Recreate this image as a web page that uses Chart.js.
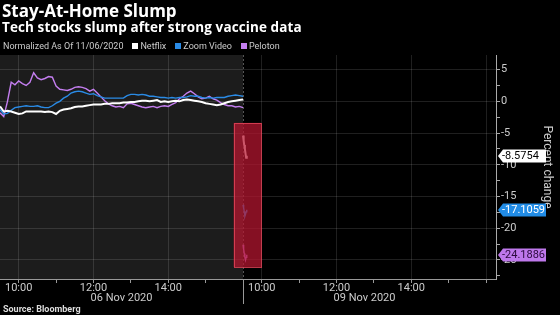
<!DOCTYPE html>
<html>
<head>
<meta charset="utf-8">
<script src="https://cdn.jsdelivr.net/npm/chart.js@4.4.0/dist/chart.umd.min.js"></script>
<style>
  html, body { margin: 0; padding: 0; background: #000; }
  #wrap { position: relative; width: 560px; height: 315px; overflow: hidden; font-family: Roboto, sans-serif; }
  #myChart { position: absolute; left: 0; top: 0; }
  .txt { position: absolute; left: 2px; white-space: nowrap; color: #fff; }
  #title { top: 2px; font: bold 17px/17px "Open Sans", sans-serif; }
  #subtitle { top: 20px; font: bold 13.5px/14px "Open Sans", sans-serif; letter-spacing: 0.1px; }
  #legend { top: 42px; left: 3px; font: 9px/9px Roboto, sans-serif; color: #ccc; }
  #legend .sw { display: inline-block; width: 6px; height: 6px; margin: 0 2px 0 9px; }
  #source { top: 305px; left: 3px; font: bold 9px/9px Roboto, sans-serif; color: #ddd; }
</style>
</head>
<body>
<div id="wrap">
  <canvas id="myChart" width="560" height="315"></canvas>
  <div class="txt" id="title">Stay-At-Home Slump</div>
  <div class="txt" id="subtitle">Tech stocks slump after strong vaccine data</div>
  <div class="txt" id="legend">Normalized As Of 11/06/2020<span class="sw" style="background:#ffffff"></span>Netflix<span class="sw" style="background:#2a8be6"></span>Zoom Video<span class="sw" style="background:#c47ef0"></span>Peloton</div>
  <div class="txt" id="source">Source: Bloomberg</div>
</div>
<script>
// minutes since the 09:30 open of 06 Nov; 09 Nov starts at minute 390
const day1Step = 6;
const dayBreak = 390;

const seriesNames = ['Netflix', 'Zoom Video', 'Peloton'];
const seriesColors = ['#ffffff', '#2a8be6', '#c47ef0'];
const tagColors = ['#ffffff', '#218ce6', '#be78eb'];
const tagTextColors = ['#000000', '#ffffff', '#2b0a3d'];

const netflixDay1 = [
  -0.8, -1.6, -1.5, -1.6, -1.8, -2.0, -1.9, -1.6, -1.6, -1.6,
  -1.6, -1.6, -1.7, -1.6, -1.7, -2.0, -1.5, -1.3, -1.2, -1.1,
  -0.9, -0.8, -0.8, -0.7, -0.6, -0.5, -0.5, -0.5, -0.4, -0.4,
  -0.3, -0.3, -0.3, -0.2, -0.2, -0.1, -0.1, 0.0, 0.1, 0.1,
  0.0, 0.1, 0.2, -0.1, 0.0, -0.1, 0.0, 0.1, 0.0, 0.2,
  0.3, 0.2, 0.1, 0.0, -0.1, -0.3, -0.4, -0.5, -0.6, -0.5,
  -0.3, -0.1, 0.0, 0.1, 0.2, 0.3
];
const zoomDay1 = [
  -1.3, -2.0, -1.9, -1.4, -1.0, -0.9, -0.8, -0.7, -0.8, -0.8,
  -0.7, -0.9, -1.0, -1.0, -0.7, -0.3, 0.0, 0.5, 0.8, 1.3,
  1.5, 1.6, 1.5, 1.3, 1.1, 1.2, 0.9, 0.7, 0.5, 0.5,
  0.5, 0.5, 0.5, 0.5, 0.9, 1.1, 1.1, 1.0, 1.1, 1.0,
  0.8, 0.8, 0.7, 0.6, 0.6, 0.5, 0.6, 0.5, 0.6, 0.6,
  0.7, 0.9, 0.8, 0.8, 0.6, 0.5, 0.6, 0.5, 0.6, 0.6,
  0.6, 0.8, 0.9, 1.0, 0.9, 0.8
];
const pelotonDay1 = [
  -1.8, -2.4, 0.0, 3.0, 2.6, 3.2, 2.8, 2.5, 3.0, 4.5,
  3.7, 3.4, 3.6, 3.9, 3.8, 2.4, 1.9, 1.8, 1.7, 1.9,
  2.2, 2.3, 2.2, 2.0, 1.6, 1.9, 1.3, 0.7, 0.1, -0.4,
  -0.7, -0.9, -0.8, -1.0, -0.4, -0.3, -0.5, -0.7, -0.9, -1.0,
  -0.9, -0.8, -1.0, -0.8, -0.7, -0.8, -0.5, -0.2, 0.4, 0.8,
  1.3, 1.6, 1.2, 0.7, 0.4, 0.5, 0.8, 0.4, 0.2, -0.2,
  -0.5, -0.7, -0.7, -0.9, -0.8, -1.0
];
// first minutes of 09 Nov, one per minute
const netflixDay2 = [-5.4, -6.2, -6.9, -7.5, -8.2, -8.9, -8.5754];
const zoomDay2 = [-16.3, -16.8, -17.4, -18.1, -17.8, -17.4, -17.1059];
const pelotonDay2 = [-22.6, -23.3, -24.0, -24.6, -25.0, -24.6, -24.1886];

const xTickMinutes = [30, 90, 150, 210, 270, 330, 420, 480, 540, 600, 660, 720, 780];
const xTickLabels = { 30: '10:00', 150: '12:00', 270: '14:00', 420: '10:00', 540: '12:00', 660: '14:00' };
const xGridMinutes = [30, 150, 270, 420, 540, 660, 780];
const dateLabels = ['06 Nov 2020', '09 Nov 2020'];
const yTickValues = [-27.5, -25, -22.5, -20, -17.5, -15, -12.5, -10, -7.5, -5, -2.5, 0, 2.5, 5];
const highlight = { xMin: 375, xMax: 419, yMin: -26.1, yMax: -3.4 };

function toPoints(d1, d2) {
  const pts = d1.map((v, i) => ({ x: i * day1Step, y: v }));
  pts.push({ x: dayBreak, y: null });
  d2.forEach((v, i) => pts.push({ x: dayBreak + i, y: v }));
  return pts;
}

const decor = {
  id: 'decor',
  beforeDraw(chart) {
    const { ctx, chartArea: a, scales: { x } } = chart;
    ctx.save();
    ctx.fillStyle = '#1c1c1c';
    const x0 = x.getPixelForValue(0), x1 = x.getPixelForValue(dayBreak);
    ctx.fillRect(x0, a.top, x1 - x0, a.bottom - a.top);
    ctx.restore();
  },
  beforeDatasetsDraw(chart) {
    const { ctx, chartArea: a, scales: { x } } = chart;
    const xb = Math.round(x.getPixelForValue(dayBreak)) + 0.5;
    ctx.save();
    ctx.strokeStyle = '#555';
    ctx.setLineDash([2, 2]);
    ctx.beginPath();
    ctx.moveTo(xb, a.top);
    ctx.lineTo(xb, a.bottom);
    ctx.stroke();
    ctx.restore();
  },
  afterDatasetsDraw(chart) {
    const { ctx, scales: { x, y } } = chart;
    const l = x.getPixelForValue(highlight.xMin), r = x.getPixelForValue(highlight.xMax);
    const t = y.getPixelForValue(highlight.yMax), b = y.getPixelForValue(highlight.yMin);
    ctx.save();
    ctx.fillStyle = 'rgba(185,22,48,0.72)';
    ctx.fillRect(l, t, r - l, b - t);
    ctx.strokeStyle = 'rgba(230,70,90,0.8)';
    ctx.lineWidth = 1;
    ctx.strokeRect(Math.round(l) + 0.5, Math.round(t) + 0.5, Math.round(r - l), Math.round(b - t));
    ctx.restore();
  },
  afterDraw(chart) {
    const { ctx, chartArea: a, scales: { x, y } } = chart;
    ctx.save();
    // day separator under the axis
    const xb = Math.round(x.getPixelForValue(dayBreak)) + 0.5;
    ctx.strokeStyle = '#999';
    ctx.beginPath();
    ctx.moveTo(xb, a.bottom);
    ctx.lineTo(xb, a.bottom + 25);
    ctx.stroke();
    // date labels
    ctx.fillStyle = '#ccc';
    ctx.font = '11px Roboto';
    ctx.textAlign = 'center';
    ctx.textBaseline = 'middle';
    ctx.fillText(dateLabels[0], x.getPixelForValue(dayBreak / 2), a.bottom + 19);
    ctx.fillText(dateLabels[1], x.getPixelForValue(dayBreak * 1.5), a.bottom + 19);
    // last value tags
    ctx.textAlign = 'left';
    chart.data.datasets.forEach((ds, i) => {
      const last = ds.data[ds.data.length - 1].y;
      const py = Math.round(y.getPixelForValue(last));
      const x0 = a.right + 2;
      ctx.fillStyle = tagColors[i];
      ctx.beginPath();
      ctx.moveTo(x0, py);
      ctx.lineTo(x0 + 5, py - 6.5);
      ctx.lineTo(x0 + 48, py - 6.5);
      ctx.lineTo(x0 + 48, py + 6.5);
      ctx.lineTo(x0 + 5, py + 6.5);
      ctx.closePath();
      ctx.fill();
      ctx.fillStyle = tagTextColors[i];
      ctx.fillText(last.toFixed(4), x0 + 4, py + 0.5);
    });
    ctx.restore();
  }
};

const ctx = document.getElementById('myChart');
const allData = [
  toPoints(netflixDay1, netflixDay2),
  toPoints(zoomDay1, zoomDay2),
  toPoints(pelotonDay1, pelotonDay2)
];

new Chart(ctx, {
  type: 'line',
  data: {
    datasets: seriesNames.map((name, i) => ({
      label: name,
      data: allData[i],
      borderColor: seriesColors[i],
      backgroundColor: seriesColors[i],
      borderWidth: i === 0 ? 2 : 1.4,
      pointRadius: 0,
      tension: 0,
      spanGaps: false,
    })),
  },
  options: {
    responsive: false,
    animation: false,
    layout: { padding: { top: 55, left: 0, right: 0, bottom: 0 } },
    plugins: { legend: { display: false }, tooltip: { enabled: false } },
    scales: {
      x: {
        type: 'linear',
        min: 0,
        max: 796,
        afterBuildTicks: (s) => { s.ticks = xTickMinutes.map((v) => ({ value: v })); },
        afterFit: (s) => { s.height = 36; },
        ticks: {
          callback: (v) => xTickLabels[v] || '',
          color: '#ccc',
          font: { family: 'Roboto', size: 11 },
          maxRotation: 0,
          autoSkip: false,
          padding: -1,
        },
        grid: {
          color: (c) => (c.tick && xGridMinutes.includes(c.tick.value) ? 'rgba(255,255,255,0.12)' : 'transparent'),
          tickColor: '#999',
          tickLength: 4,
        },
        border: { color: '#999' },
      },
      y: {
        position: 'right',
        min: -28,
        max: 7.3,
        afterBuildTicks: (s) => { s.ticks = yTickValues.map((v) => ({ value: v })); },
        afterFit: (s) => { s.width = 64; },
        ticks: {
          callback: (v) => (v % 5 === 0 ? String(v) : ''),
          color: '#ccc',
          font: { family: 'Roboto', size: 11 },
          padding: 1,
        },
        grid: {
          color: (c) => (c.tick && c.tick.value % 5 === 0 ? 'rgba(255,255,255,0.12)' : 'transparent'),
          tickColor: '#aaa',
          tickLength: 4,
        },
        border: { color: '#aaa' },
        title: {
          display: true,
          text: 'Percent change',
          color: '#ccc',
          font: { family: 'Roboto', size: 12 },
          padding: { top: 6, bottom: 6 },
        },
      },
    },
  },
  plugins: [decor],
});
</script>
</body>
</html>
